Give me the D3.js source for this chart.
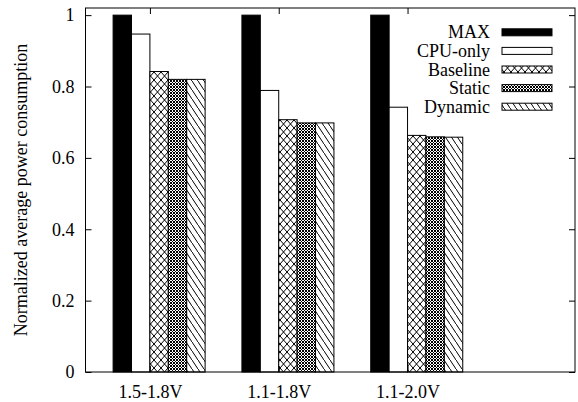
<!DOCTYPE html>
<html>
<head>
<meta charset="utf-8">
<script src="https://cdn.jsdelivr.net/npm/d3@7"></script>
<style>
  body { margin: 0; background: white; }
  text { font-family: "Liberation Serif", "Times New Roman", serif; font-size: 18px; fill: black; }
</style>
</head>
<body>
<svg id="chart" width="578" height="402"></svg>
<script>
var groups = ["1.5-1.8V", "1.1-1.8V", "1.1-2.0V"];
var seriesNames = ["MAX", "CPU-only", "Baseline", "Static", "Dynamic"];
var maxVals      = [1.0, 1.0, 1.0];
var cpuOnlyVals  = [0.947, 0.789, 0.742];
var baselineVals = [0.842, 0.707, 0.663];
var staticVals   = [0.820, 0.698, 0.659];
var dynamicVals  = [0.820, 0.698, 0.658];
var yTicks = [0, 0.2, 0.4, 0.6, 0.8, 1];

var allSeries = [maxVals, cpuOnlyVals, baselineVals, staticVals, dynamicVals];
var fills = ["black", "white", "url(#pBaseline)", "url(#pStatic)", "url(#pDynamic)"];

var svg = d3.select("#chart");
var plotLeft = 85.5, plotRight = 575, plotTop = 8, plotBottom = 372;

var xs = d3.scaleLinear().domain([-0.5, 3.3]).range([plotLeft, plotRight]);
var ys = d3.scaleLinear().domain([0, 1.02]).range([plotBottom, plotTop]);
var bw = xs(1 / 7) - xs(0);

// patterns
var defs = svg.append("defs");
var p1 = defs.append("pattern").attr("id", "pBaseline").attr("patternUnits", "userSpaceOnUse")
    .attr("width", 7).attr("height", 8);
p1.append("rect").attr("width", 7).attr("height", 8).attr("fill", "white");
p1.append("path").attr("d", "M-1,-1.14L8,9.14M8,-1.14L-1,9.14").attr("stroke", "black").attr("stroke-width", 1);

var p2 = defs.append("pattern").attr("id", "pStatic").attr("patternUnits", "userSpaceOnUse")
    .attr("width", 3).attr("height", 3);
p2.append("rect").attr("width", 3).attr("height", 3).attr("fill", "white");
p2.append("path").attr("d", "M-0.5,-0.5L3.5,3.5M3.5,-0.5L-0.5,3.5").attr("stroke", "black").attr("stroke-width", 1);

var p3 = defs.append("pattern").attr("id", "pDynamic").attr("patternUnits", "userSpaceOnUse")
    .attr("width", 6).attr("height", 9);
p3.append("rect").attr("width", 6).attr("height", 9).attr("fill", "white");
p3.append("path").attr("d", "M-1,-1.5L7,10.5").attr("stroke", "black").attr("stroke-width", 1);

// bars
allSeries.forEach(function(vals, i) {
    svg.append("g")
        .selectAll("rect")
        .data(vals)
        .enter()
        .append("rect")
            .attr("x", function(d, g) { return xs(g - 2 / 7 + i / 7); })
            .attr("y", function(d) { return ys(d); })
            .attr("width", bw)
            .attr("height", function(d) { return plotBottom - ys(d); })
            .attr("fill", fills[i])
            .attr("stroke", "black")
            .attr("stroke-width", 1);
});

// axes (ticks point inward, mirrored on top/right)
svg.append("g")
    .attr("transform", "translate(" + plotLeft + ",0)")
    .call(d3.axisLeft(ys).tickValues(yTicks).tickFormat(d3.format("~g")).tickSizeInner(-6).tickSizeOuter(0).tickPadding(11));
svg.append("g")
    .attr("transform", "translate(" + plotRight + ",0)")
    .call(d3.axisRight(ys).tickValues(yTicks).tickFormat("").tickSizeInner(-6).tickSizeOuter(0));
svg.append("g")
    .attr("transform", "translate(0," + plotBottom + ")")
    .call(d3.axisBottom(xs).tickValues([0, 1, 2]).tickFormat(function(d) { return groups[d]; })
        .tickSizeInner(-6).tickSizeOuter(0).tickPadding(13));
svg.append("g")
    .attr("transform", "translate(0," + plotTop + ")")
    .call(d3.axisTop(xs).tickValues([0, 1, 2]).tickFormat("").tickSizeInner(-6).tickSizeOuter(0));

svg.selectAll(".domain").remove();
svg.selectAll(".tick text").style("font-family", "Liberation Serif").style("font-size", "18px");

svg.append("rect")
    .attr("x", plotLeft).attr("y", plotTop)
    .attr("width", plotRight - plotLeft).attr("height", plotBottom - plotTop)
    .attr("fill", "none").attr("stroke", "black").attr("stroke-width", 1);

// y label
svg.append("text")
    .attr("transform", "translate(27,190) rotate(-90)")
    .style("text-anchor", "middle")
    .text("Normalized average power consumption");

// legend
var legend = svg.append("g");
seriesNames.forEach(function(name, i) {
    var cy = 32.3 + i * 18.6;
    legend.append("text")
        .attr("x", 490).attr("y", cy + 6)
        .style("text-anchor", "end")
        .text(name);
    legend.append("rect")
        .attr("x", 502).attr("y", cy - 3.5)
        .attr("width", 50).attr("height", 7)
        .attr("fill", fills[i])
        .attr("stroke", "black").attr("stroke-width", 1);
});
</script>
</body>
</html>
